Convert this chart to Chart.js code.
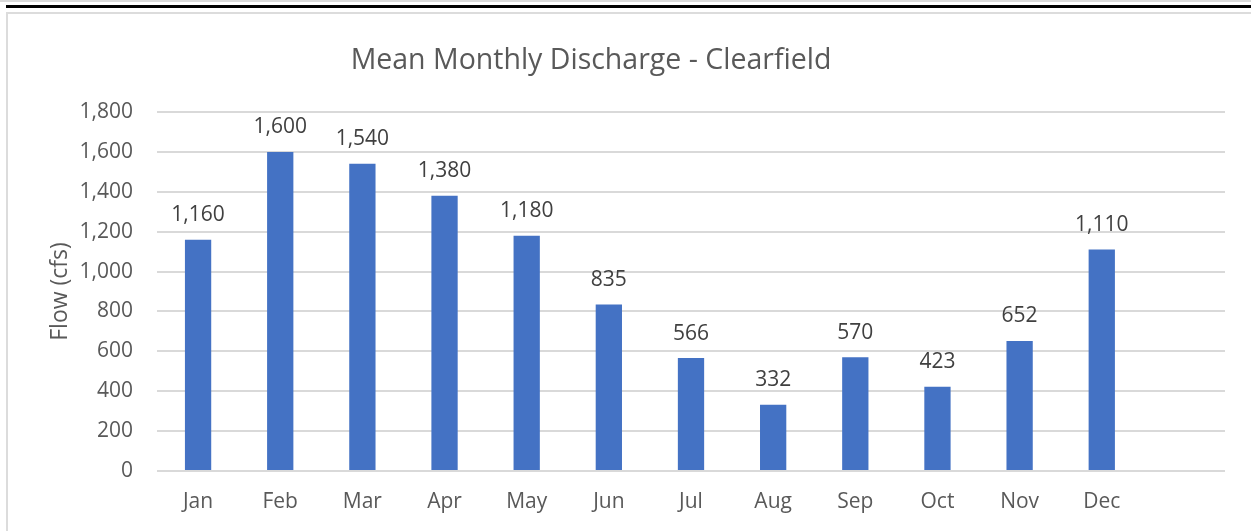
<!DOCTYPE html>
<html>
<head>
<meta charset="utf-8">
<script src="https://cdn.jsdelivr.net/npm/chart.js@4"></script>
<style>
  html, body { margin: 0; padding: 0; background: #fff; }
  body { width: 1251px; height: 531px; position: relative; overflow: hidden; }
  .rule-top { position: absolute; left: 0; right: 0; top: 0; height: 2px; background: #d9d9d9; }
  .rule-black { position: absolute; left: 6px; right: 0; top: 5px; height: 3px; background: #000; }
  .card { position: absolute; left: 6px; top: 12px; width: 1260px; height: 530px; border: 2px solid #dcdcdc; box-sizing: border-box; }
  #chart { position: absolute; left: 0; top: 0; }
  .title {
    position: absolute; left: 291px; width: 600px; top: 38px; height: 40px; line-height: 40px;
    text-align: center; font-family: 'Open Sans', sans-serif; font-size: 28.5px; color: #595959;
  }
</style>
</head>
<body>
<div class="rule-top"></div>
<div class="rule-black"></div>
<div class="card"></div>
<canvas id="chart" width="1251" height="531"></canvas>
<div class="title">Mean Monthly Discharge - Clearfield</div>
<script>
// months, plus one empty slot at the end like the original sheet
const months = ['Jan', 'Feb', 'Mar', 'Apr', 'May', 'Jun', 'Jul', 'Aug', 'Sep', 'Oct', 'Nov', 'Dec', ''];
const flow = [1160, 1600, 1540, 1380, 1180, 835, 566, 332, 570, 423, 652, 1110, null];
const yTicks = [0, 200, 400, 600, 800, 1000, 1200, 1400, 1600, 1800];

const FONT = "'Open Sans', sans-serif";

// draws the value over each bar
const barLabels = {
    id: 'barLabels',
    afterDatasetsDraw(chart) {
        const ctx = chart.ctx;
        const meta = chart.getDatasetMeta(0);
        ctx.save();
        ctx.font = '21px ' + FONT;
        ctx.fillStyle = '#404040';
        ctx.textAlign = 'center';
        ctx.textBaseline = 'bottom';
        meta.data.forEach((bar, i) => {
            const v = flow[i];
            if (v == null) return;
            ctx.fillText(v.toLocaleString('en-US'), bar.x, bar.y - 14);
        });
        ctx.restore();
    }
};

new Chart(document.getElementById('chart').getContext('2d'), {
    type: 'bar',
    data: {
        labels: months,
        datasets: [{
            label: 'Flow',
            data: flow,
            backgroundColor: '#4472C4',
            categoryPercentage: 1,
            barPercentage: 0.32
        }]
    },
    options: {
        responsive: false,
        animation: false,
        layout: { padding: { left: 47, right: 26, top: 112, bottom: 16 } },
        plugins: {
            legend: { display: false },
            tooltip: { enabled: false }
        },
        scales: {
            x: {
                afterFit(scale) { scale.height = 44; },
                grid: { display: false, drawTicks: false },
                border: { display: false },
                ticks: { color: '#595959', font: { family: FONT, size: 21 }, padding: 18, maxRotation: 0 }
            },
            y: {
                min: 0,
                max: 1800,
                afterBuildTicks(scale) { scale.ticks = yTicks.map(v => ({ value: v })); },
                afterFit(scale) { scale.width = 110; },
                grid: { color: '#d9d9d9', lineWidth: 2, drawTicks: false },
                border: { display: false },
                ticks: {
                    color: '#595959',
                    font: { family: FONT, size: 21 },
                    padding: 24,
                    callback: v => v.toLocaleString('en-US')
                },
                title: {
                    display: true,
                    text: 'Flow (cfs)',
                    color: '#595959',
                    font: { family: FONT, size: 23 },
                    padding: 0
                }
            }
        }
    },
    plugins: [barLabels]
});
</script>
</body>
</html>
